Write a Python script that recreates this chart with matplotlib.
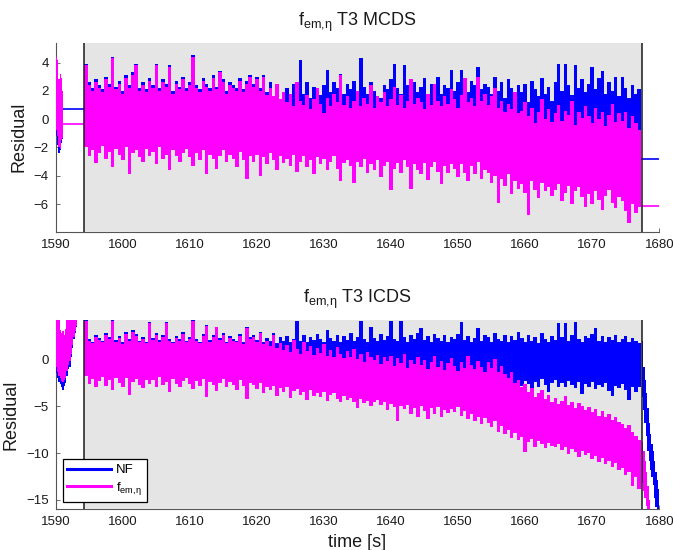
import numpy as np
import matplotlib.pyplot as plt
from matplotlib.lines import Line2D

plt.rcParams['font.family'] = ['Liberation Sans', 'DejaVu Sans']
plt.rcParams['mathtext.fontset'] = 'custom'
plt.rcParams['mathtext.rm'] = 'Liberation Sans'
plt.rcParams['mathtext.it'] = 'Liberation Sans:italic'

BLUE = '#0000ff'
MAGENTA = '#ff00ff'
FEM = r'$\mathregular{f_{em{,}\eta}}$'

# edges of the valid (grey) window
t_start = 1594.27
t_end = 1677.37

# main window: min/max of the residual in 0.5 s bins
t_main = np.arange(1594.5, 1677.01, 0.5)

# ---- T3 MCDS ----
mcds_nf_hi = [
    3.9, 2.6, 2.2, 2.8, 2.4, 2.1, 3.0, 2.5, 4.4, 2.3,
    2.7, 2.0, 3.1, 2.4, 3.3, 3.9, 2.2, 2.6, 2.1, 2.9,
    2.4, 3.9, 2.2, 2.8, 2.5, 3.8, 2.0, 2.7, 2.3, 3.0,
    2.2, 2.6, 4.5, 2.4, 2.1, 2.9, 2.5, 2.2, 3.1, 2.3,
    3.4, 2.8, 2.0, 2.6, 2.4, 2.2, 2.9, 2.1, 2.7, 3.1,
    2.5, 3.0, 2.2, 3.1, 1.9, 2.6, 1.2, 1.5, 0.8, 1.9,
    2.2, 1.6, 2.5, 2.0, 4.2, 1.8, 2.6, 1.5, 2.3, 2.0,
    1.7, 2.4, 3.5, 1.9, 2.6, 2.2, 3.2, 1.8, 2.5, 2.1,
    2.7, 1.9, 4.3, 2.3, 1.8, 2.6, 2.0, 0.1, 1.5, 2.4,
    2.1, 2.8, 3.9, 2.2, 1.8, 3.8, 2.4, 2.0, 2.6, 1.9,
    2.3, 2.9, 1.7, 2.5, 2.1, 3.0, 1.8, 2.4, 2.2, 3.5,
    2.0, 2.6, 3.5, 2.2, 1.9, 2.7, 2.4, 3.7, 2.1, 2.5,
    2.3, 1.8, 3.0, 2.0, 2.6, 1.5, 2.8, 2.2, 1.4, 2.4,
    1.9, 2.5, 1.2, 2.7, 2.1, 1.6, 2.9, 1.8, 2.3, 1.3,
    2.6, 3.9, 2.0, 3.9, 2.4, 1.7, 3.8, 2.2, 2.8, 1.9,
    2.5, 3.7, 2.1, 2.9, 3.4, 1.8, 2.6, 2.0, 3.0, 1.6,
    3.0, 2.2, 1.5, 2.4, 1.8, 2.1,
]
mcds_nf_lo = [
    -1.8, -2.4, -2.0, -2.9, -2.2, -1.7, -2.6, -2.1, -3.2, -1.9,
    -2.3, -2.7, -1.8, -3.6, -2.2, -2.0, -2.5, -2.8, -1.9, -2.4,
    -2.1, -3.0, -1.8, -2.6, -2.3, -3.3, -2.0, -2.4, -2.8, -2.2,
    -1.9, -2.5, -3.1, -2.2, -2.7, -2.0, -3.6, -2.3, -2.6, -3.2,
    -2.4, -2.0, -2.8, -2.3, -2.6, -3.1, -2.1, -2.7, -3.9, -2.4,
    -2.6, -2.1, -3.3, -2.2, -2.7, -1.9, -2.4, -3.0, -2.1, -2.5,
    -2.0, -2.5, -1.8, -2.9, -2.2, -1.9, -2.6, -2.1, -3.0, -2.0,
    -2.3, -1.9, -2.7, -2.1, -1.8, -2.6, -3.2, -2.2, -2.0, -2.4,
    -3.1, -2.1, -2.5, -1.9, -2.8, -2.3, -2.6, -2.0, -3.0, -2.4,
    -2.1, -3.4, -2.5, -2.2, -2.7, -2.0, -2.4, -3.3, -2.2, -2.6,
    -2.7, -2.1, -3.0, -2.3, -2.0, -2.6, -3.1, -2.2, -2.5, -2.1,
    -2.3, -2.8, -2.0, -2.5, -3.0, -2.1, -2.6, -1.9, -2.8, -2.3,
    -2.4, -2.9, -2.2, -3.1, -2.5, -2.8, -2.1, -3.0, -2.4, -2.7,
    -2.3, -2.8, -3.4, -2.2, -2.6, -3.0, -2.1, -2.7, -2.4, -2.9,
    -2.5, -2.1, -2.9, -2.6, -2.2, -3.1, -2.4, -2.0, -2.7, -3.2,
    -2.6, -3.0, -2.3, -2.8, -3.3, -2.5, -2.2, -2.9, -3.1, -2.6,
    -2.8, -3.2, -3.5, -2.9, -3.0, -2.8,
]
mcds_fem_hi = [
    3.8, 2.4, 2.0, 2.6, 2.2, 1.9, 2.8, 2.3, 4.3, 2.1,
    2.5, 1.8, 2.9, 2.2, 3.1, 3.8, 2.0, 2.4, 1.9, 2.7,
    2.2, 3.8, 2.0, 2.6, 2.3, 3.7, 1.8, 2.5, 2.1, 2.8,
    2.0, 2.4, 4.4, 2.2, 1.9, 2.7, 2.3, 2.0, 2.9, 2.1,
    3.3, 2.6, 1.8, 2.4, 2.2, 2.0, 2.7, 1.9, 2.5, 3.0,
    2.3, 2.8, 2.0, 3.0, 1.7, 2.2, 1.6, 2.5, 1.4, 1.9,
    1.2, 1.8, 0.9, 2.6, 1.3, 1.0, 1.7, 0.7, 1.4, 2.2,
    1.1, 0.4, 1.5, 0.9, 1.8, 1.2, 3.1, 1.0, 1.6, 0.8,
    1.3, 2.0, 0.9, 1.5, 1.1, 2.4, 0.8, 1.6, 1.2, 1.9,
    0.9, 1.4, 2.3, 1.0, 1.7, 0.8, 1.3, 2.8, 1.1, 1.5,
    1.2, 0.7, 1.8, 1.0, 2.5, 1.3, 0.9, 1.6, 1.1, 2.1,
    1.4, 0.8, 1.7, 2.9, 1.2, 1.5, 0.9, 3.0, 1.3, 1.8,
    1.0, 1.6, 2.2, 0.8, 1.3, 0.5, 1.1, 0.7, 1.9, 0.4,
    0.6, 1.2, 0.2, 0.8, -0.3, 0.5, 1.4, 0.0, 0.7, -0.2,
    0.4, 1.0, -0.1, 0.6, 0.3, 1.3, -0.4, 0.5, 0.1, 0.9,
    0.2, -0.3, 0.8, 0.0, 0.5, -0.5, 0.3, 1.1, -0.2, 0.4,
    -0.1, 0.5, -0.6, 0.2, -0.3, -0.8,
]
mcds_fem_lo = [
    -2.0, -2.6, -2.2, -3.1, -2.4, -1.9, -2.8, -2.3, -3.4, -2.1,
    -2.5, -2.9, -2.0, -3.9, -2.4, -2.2, -2.7, -3.0, -2.1, -2.6,
    -2.3, -3.2, -2.0, -2.8, -2.5, -3.6, -2.2, -2.6, -3.0, -2.4,
    -2.1, -2.7, -3.3, -2.4, -2.9, -2.2, -3.9, -2.5, -2.8, -3.5,
    -2.6, -2.2, -3.0, -2.5, -2.8, -3.4, -2.3, -2.9, -4.2, -2.6,
    -3.0, -2.5, -4.0, -2.7, -3.2, -2.4, -2.9, -3.6, -2.6, -3.1,
    -2.8, -3.3, -2.5, -3.7, -3.0, -2.6, -3.4, -2.9, -3.9, -2.7,
    -3.2, -2.8, -3.6, -3.0, -2.6, -3.5, -4.4, -3.1, -2.9, -3.3,
    -4.5, -3.0, -3.4, -2.8, -3.8, -3.2, -3.6, -2.9, -4.1, -3.3,
    -3.0, -5.0, -3.5, -3.1, -3.8, -2.9, -3.4, -4.9, -3.2, -3.6,
    -3.9, -3.1, -4.3, -3.4, -3.0, -3.7, -4.6, -3.3, -3.8, -3.2,
    -3.5, -4.1, -3.2, -3.8, -4.4, -3.3, -3.9, -3.0, -4.2, -3.6,
    -3.8, -4.5, -4.0, -5.9, -4.2, -4.7, -3.9, -5.3, -4.4, -4.9,
    -4.6, -5.2, -6.8, -4.4, -5.0, -5.6, -4.5, -5.1, -4.8, -5.4,
    -5.0, -4.6, -5.8, -5.2, -4.7, -6.0, -5.1, -4.8, -5.5, -6.2,
    -5.3, -6.0, -5.1, -5.7, -6.4, -5.4, -5.0, -5.9, -6.3, -5.5,
    -5.8, -6.5, -7.3, -6.0, -6.6, -6.2,
]

# MCDS: short burst before the window, then the held values
mcds_pre_t = [1590.1, 1590.3, 1590.5, 1590.7, 1590.9, 1591.05]
mcds_pre_nf_hi = [4.3, 4.1, 2.7, 3.1, 2.8, 1.9]
mcds_pre_nf_lo = [-1.2, -1.8, -2.4, -2.2, -1.7, -1.4]
mcds_pre_fem_hi = [4.4, 4.2, 2.8, 3.2, 2.9, 2.0]
mcds_pre_fem_lo = [-0.8, -1.2, -2.0, -2.1, -1.5, -1.3]
mcds_hold_from = 1591.1
mcds_hold_pre_nf = 0.70
mcds_hold_pre_fem = -0.36
mcds_hold_post_nf = -2.82
mcds_hold_post_fem = -6.12

# ---- T3 ICDS ----
icds_nf_hi = [
    4.2, 2.2, 1.9, 2.6, 2.3, 2.0, 2.8, 2.4, 4.2, 2.1,
    2.5, 1.8, 2.9, 2.2, 3.1, 2.7, 2.0, 2.4, 1.9, 4.0,
    2.3, 2.8, 2.1, 2.6, 4.0, 2.2, 1.9, 2.5, 2.2, 2.9,
    2.0, 2.4, 4.2, 2.2, 1.9, 2.7, 3.7, 2.1, 2.6, 3.5,
    2.3, 2.8, 1.9, 2.5, 2.2, 2.0, 2.7, 1.8, 3.4, 2.4,
    2.6, 2.1, 2.9, 1.9, 2.3, 2.0, 2.8, 1.7, 2.4, 2.0,
    2.5, 1.8, 2.2, 4.1, 2.0, 2.6, 1.9, 2.4, 2.1, 2.7,
    2.2, 1.9, 3.1, 2.3, 2.0, 2.6, 1.8, 2.5, 2.1, 2.8,
    2.0, 2.4, 4.1, 2.2, 1.9, 3.4, 2.3, 2.0, 2.7, 2.1,
    2.5, 4.1, 2.2, 2.0, 4.1, 2.4, 1.9, 2.6, 2.2, 2.8,
    3.3, 2.1, 2.5, 1.9, 2.7, 2.3, 2.0, 2.6, 1.8, 2.4,
    2.2, 2.7, 4.0, 2.1, 2.5, 1.9, 2.3, 3.3, 2.0, 2.6,
    2.4, 1.9, 2.8, 2.2, 2.0, 2.6, 1.8, 2.5, 2.1, 2.9,
    2.3, 1.9, 2.6, 2.0, 2.4, 1.7, 2.8, 2.2, 1.9, 2.5,
    2.1, 3.9, 2.4, 3.9, 2.0, 2.6, 4.0, 2.2, 1.9, 2.5,
    2.3, 2.7, 3.3, 2.0, 2.5, 1.8, 2.4, 2.1, 2.6, 1.9,
    2.2, 2.5, 1.8, 2.3, 2.0, 1.7,
]
icds_nf_lo = [
    -1.6, -2.4, -1.9, -2.8, -2.1, -1.7, -2.6, -2.0, -3.1, -1.8,
    -2.3, -2.7, -1.8, -3.6, -2.2, -1.9, -2.5, -2.9, -2.0, -2.4,
    -2.0, -2.8, -1.7, -2.5, -2.2, -3.3, -1.9, -2.4, -2.8, -2.1,
    -1.8, -2.4, -3.0, -2.1, -2.6, -1.9, -3.8, -2.2, -2.5, -3.2,
    -2.3, -1.9, -2.7, -2.2, -2.5, -3.1, -2.0, -2.6, -4.0, -2.3,
    -2.1, -2.6, -1.8, -2.9, -2.2, -2.5, -2.0, -2.7, -1.9, -2.4,
    -2.0, -2.5, -1.7, -2.3, -2.8, -1.9, -2.4, -2.1, -2.6, -1.8,
    -2.2, -1.8, -2.6, -2.0, -2.4, -2.9, -1.9, -2.3, -2.7, -2.1,
    -1.9, -2.5, -2.2, -2.8, -2.0, -2.4, -3.0, -2.1, -2.6, -2.3,
    -2.0, -2.7, -2.3, -1.9, -2.5, -2.1, -2.8, -2.2, -2.4, -3.1,
    -2.2, -1.8, -2.6, -2.3, -2.0, -2.9, -2.1, -2.5, -1.9, -2.4,
    -2.1, -2.6, -2.0, -2.8, -2.3, -1.9, -2.7, -2.2, -3.0, -2.4,
    -2.5, -2.0, -2.9, -2.3, -2.7, -2.1, -3.3, -2.4, -2.6, -2.2,
    -2.8, -2.3, -2.6, -3.2, -2.4, -2.9, -2.1, -2.7, -3.5, -2.5,
    -2.2, -2.9, -2.5, -3.0, -2.3, -2.7, -3.1, -2.4, -3.7, -2.6,
    -2.9, -2.4, -3.2, -2.7, -3.0, -2.5, -3.4, -3.9, -2.8, -3.1,
    -2.6, -3.3, -4.3, -2.9, -3.5, -3.0,
]
icds_fem_hi = [
    4.1, 2.0, 1.7, 2.4, 2.1, 1.8, 2.6, 2.2, 4.1, 1.9,
    2.3, 1.6, 2.7, 2.0, 2.9, 2.5, 1.8, 2.2, 1.7, 3.9,
    2.1, 2.6, 1.9, 2.4, 3.9, 2.0, 1.7, 2.3, 2.0, 2.7,
    1.8, 2.2, 4.1, 2.0, 1.7, 2.5, 3.6, 1.9, 2.4, 3.4,
    2.1, 2.6, 1.7, 2.3, 2.0, 1.8, 2.5, 1.6, 3.3, 2.2,
    2.4, 1.9, 2.8, 1.6, 2.0, 1.4, 2.6, 1.2, 1.7, 1.0,
    1.5, 0.8, 2.1, 1.1, 0.6, 1.8, 0.9, 1.4, 0.5, 1.2,
    0.7, 1.6, 0.4, 1.0, 0.2, 1.3, 0.6, 0.1, 0.9, 0.3,
    1.1, 0.0, 0.6, -0.3, 0.8, 0.2, -0.1, 0.5, -0.5, 0.3,
    -0.2, 0.4, -0.7, 0.1, -0.4, 0.6, -0.9, -0.1, -0.5, 0.2,
    -0.6, -0.1, -1.0, -0.3, 0.4, -0.8, -0.2, -1.1, -0.4, 0.1,
    -0.7, -1.2, -0.3, -0.9, 0.4, -0.6, -1.0, -0.2, -0.8, -1.3,
    -0.3, -0.9, 0.0, -1.3, -0.7, -1.6, -2.0, -1.4, -2.5, -2.2,
    -3.0, -2.6, -3.5, -3.1, -4.0, -3.6, -3.3, -4.2, -3.8, -4.5,
    -4.1, -4.8, -4.4, -3.9, -4.9, -4.5, -5.2, -4.7, -5.0, -5.4,
    -5.1, -5.6, -5.3, -6.0, -5.5, -6.2, -5.8, -6.5, -6.1, -6.7,
    -6.9, -7.3, -7.0, -7.8, -8.2, -8.6,
]
icds_fem_lo = [
    -1.8, -2.6, -2.1, -3.0, -2.3, -1.9, -2.8, -2.2, -3.3, -2.0,
    -2.5, -2.9, -2.0, -3.8, -2.4, -2.1, -2.7, -3.1, -2.2, -2.6,
    -2.2, -3.0, -1.9, -2.7, -2.4, -3.5, -2.1, -2.6, -3.0, -2.3,
    -2.0, -2.6, -3.2, -2.3, -2.8, -2.1, -4.0, -2.4, -2.7, -3.4,
    -2.5, -2.1, -2.9, -2.4, -2.7, -3.3, -2.2, -2.8, -4.2, -2.5,
    -2.7, -3.2, -2.5, -3.6, -2.9, -3.3, -2.8, -3.9, -3.1, -3.5,
    -3.0, -4.1, -3.4, -3.2, -3.8, -3.5, -4.3, -3.3, -3.9, -3.6,
    -4.0, -3.5, -4.4, -3.8, -3.6, -4.2, -4.6, -3.9, -4.3, -4.1,
    -4.5, -5.2, -4.2, -4.7, -4.4, -5.0, -4.6, -4.3, -4.9, -4.5,
    -5.4, -4.8, -5.1, -6.6, -5.0, -5.3, -4.9, -5.8, -5.2, -6.2,
    -5.0, -5.5, -6.4, -5.2, -5.8, -5.1, -6.2, -5.4, -5.7, -5.3,
    -5.6, -5.1, -6.0, -5.5, -6.4, -5.8, -6.6, -6.1, -6.9, -6.3,
    -6.8, -7.2, -6.6, -7.7, -7.1, -8.0, -7.5, -8.4, -7.9, -8.6,
    -8.3, -9.9, -8.8, -8.5, -9.3, -8.7, -9.0, -9.5, -8.9, -9.2,
    -9.4, -9.0, -9.7, -9.3, -10.1, -9.6, -9.9, -10.4, -9.8, -10.2,
    -10.0, -10.6, -10.3, -10.9, -10.5, -11.2, -10.8, -11.5, -11.1, -11.8,
    -11.6, -12.3, -12.0, -13.5, -12.6, -13.8,
]

# ICDS: drift before the window (runs off the top of the axes)
icds_pre_t = [1590.1, 1590.3, 1590.5, 1590.7, 1590.9, 1591.1, 1591.3, 1591.5,
              1591.7, 1591.9, 1592.1, 1592.3, 1592.5, 1592.7, 1592.9, 1593.1]
icds_pre_nf_hi = [4.5, 4.5, 4.5, 3.0, 2.7, 2.9, 2.5, 3.1,
                  4.5, 4.5, 4.5, 4.5, 4.5, 4.5, 4.5, 4.5]
icds_pre_nf_lo = [-1.5, -2.0, -2.4, -2.6, -3.0, -3.3, -2.8, -2.5,
                  -1.8, -1.0, -0.8, 0.3, 1.2, 2.2, 2.8, 3.4]
icds_pre_fem_hi = [4.5, 4.5, 4.5, 3.1, 2.8, 3.0, 2.6, 3.2,
                   4.5, 4.5, 4.5, 4.5, 4.5, 4.5, 4.5, 4.5]
icds_pre_fem_lo = [-0.8, -1.3, -1.8, -2.0, -2.3, -2.4, -2.2, -2.0,
                   -1.2, -0.6, -0.2, 0.6, 1.5, 2.4, 3.0, 3.6]

# ICDS: divergence after the window
icds_post_nf_t = [1677.5, 1677.7, 1677.9, 1678.1, 1678.3, 1678.5, 1678.7,
                  1678.9, 1679.1, 1679.3, 1679.5, 1679.7, 1679.9]
icds_post_nf_hi = [2.0, -0.8, -2.2, -3.6, -5.2, -6.8, -8.0,
                   -9.0, -9.8, -10.8, -12.0, -12.9, -13.8]
icds_post_nf_lo = [-4.0, -5.4, -6.8, -8.2, -9.8, -10.8, -11.8,
                   -12.6, -13.4, -14.8, -15.8, -16.5, -16.5]
icds_post_fem_t = [1677.5, 1677.7, 1677.9, 1678.1, 1678.3, 1678.5]
icds_post_fem_hi = [-8.8, -9.8, -10.8, -12.0, -13.5, -15.0]
icds_post_fem_lo = [-13.2, -14.0, -14.8, -15.6, -16.5, -16.5]

x_ticks = [1590, 1600, 1610, 1620, 1630, 1640, 1650, 1660, 1670, 1680]


def band(ax, t, lo, hi, color, dt, z):
    # one bar per bin, spanning the bin minimum to the bin maximum
    lo = np.asarray(lo)
    hi = np.asarray(hi)
    ax.bar(t, hi - lo, bottom=lo, width=dt * 1.04, color=color,
           linewidth=0, zorder=z)


def style_axes(ax, ylim, yticks, title):
    ax.set_xlim(1590, 1680)
    ax.set_ylim(*ylim)
    ax.set_xticks(x_ticks)
    ax.set_yticks(yticks)
    ax.set_axisbelow(True)
    for side in ['top', 'right']:
        ax.spines[side].set_visible(False)
    for side in ['left', 'bottom']:
        ax.spines[side].set_color('#555555')
        ax.spines[side].set_linewidth(0.8)
        ax.spines[side].set_zorder(0.5)
    ax.tick_params(direction='in', length=3, width=0.6, color='#555555',
                   labelsize=9.5, labelcolor='#1a1a1a', pad=5)
    ax.set_ylabel('Residual', fontsize=13, color='#1a1a1a', labelpad=4.5)
    ax.set_title(title, fontsize=13, color='#1a1a1a', pad=12)
    # grey window and its borders
    ax.axvspan(t_start, t_end, color='#e5e5e5', lw=0, zorder=1)
    for tv in [t_start, t_end]:
        ax.axvline(tv, color='#1a1a1a', lw=1.1, zorder=6)


fig = plt.figure(figsize=(6.73, 5.5), dpi=100)
ax1 = fig.add_axes([0.0828, 0.5787, 0.8968, 0.3437])
ax2 = fig.add_axes([0.0828, 0.0740, 0.8968, 0.3442])

style_axes(ax1, (-7.95, 5.4), [-6, -4, -2, 0, 2, 4], FEM + ' T3 MCDS')
style_axes(ax2, (-16.0, 4.2), [-15, -10, -5, 0], FEM + ' T3 ICDS')

# top: MCDS
band(ax1, t_main, mcds_nf_lo, mcds_nf_hi, BLUE, 0.5, 2)
band(ax1, t_main, mcds_fem_lo, mcds_fem_hi, MAGENTA, 0.5, 3)
band(ax1, mcds_pre_t, mcds_pre_nf_lo, mcds_pre_nf_hi, BLUE, 0.2, 2)
band(ax1, mcds_pre_t, mcds_pre_fem_lo, mcds_pre_fem_hi, MAGENTA, 0.2, 3)
ax1.plot([mcds_hold_from, t_start], [mcds_hold_pre_nf] * 2, color=BLUE, lw=1.2, zorder=2)
ax1.plot([mcds_hold_from, t_start], [mcds_hold_pre_fem] * 2, color=MAGENTA, lw=1.2, zorder=3)
ax1.plot([t_end, 1680], [mcds_hold_post_nf] * 2, color=BLUE, lw=1.2, zorder=2)
ax1.plot([t_end, 1680], [mcds_hold_post_fem] * 2, color=MAGENTA, lw=1.2, zorder=3)

# bottom: ICDS
band(ax2, t_main, icds_nf_lo, icds_nf_hi, BLUE, 0.5, 2)
band(ax2, t_main, icds_fem_lo, icds_fem_hi, MAGENTA, 0.5, 3)
band(ax2, icds_pre_t, icds_pre_nf_lo, icds_pre_nf_hi, BLUE, 0.2, 2)
band(ax2, icds_pre_t, icds_pre_fem_lo, icds_pre_fem_hi, MAGENTA, 0.2, 3)
band(ax2, icds_post_nf_t, icds_post_nf_lo, icds_post_nf_hi, BLUE, 0.2, 2)
band(ax2, icds_post_fem_t, icds_post_fem_lo, icds_post_fem_hi, MAGENTA, 0.2, 3)
ax2.set_xlabel('time [s]', fontsize=13, color='#1a1a1a', labelpad=4)

handles = [Line2D([], [], color=BLUE, lw=2.2),
           Line2D([], [], color=MAGENTA, lw=2.2)]
leg = ax2.legend(handles, ['NF', FEM],
                 loc='lower left', bbox_to_anchor=(0.0116, 0.040),
                 borderaxespad=0, fontsize=9.5, handlelength=3.3,
                 handletextpad=0.4, labelspacing=0.3, borderpad=0.35,
                 fancybox=False, framealpha=1, edgecolor='black')
leg.get_frame().set_linewidth(0.9)
leg.set_zorder(10)

fig.savefig('out.png', dpi=100)
